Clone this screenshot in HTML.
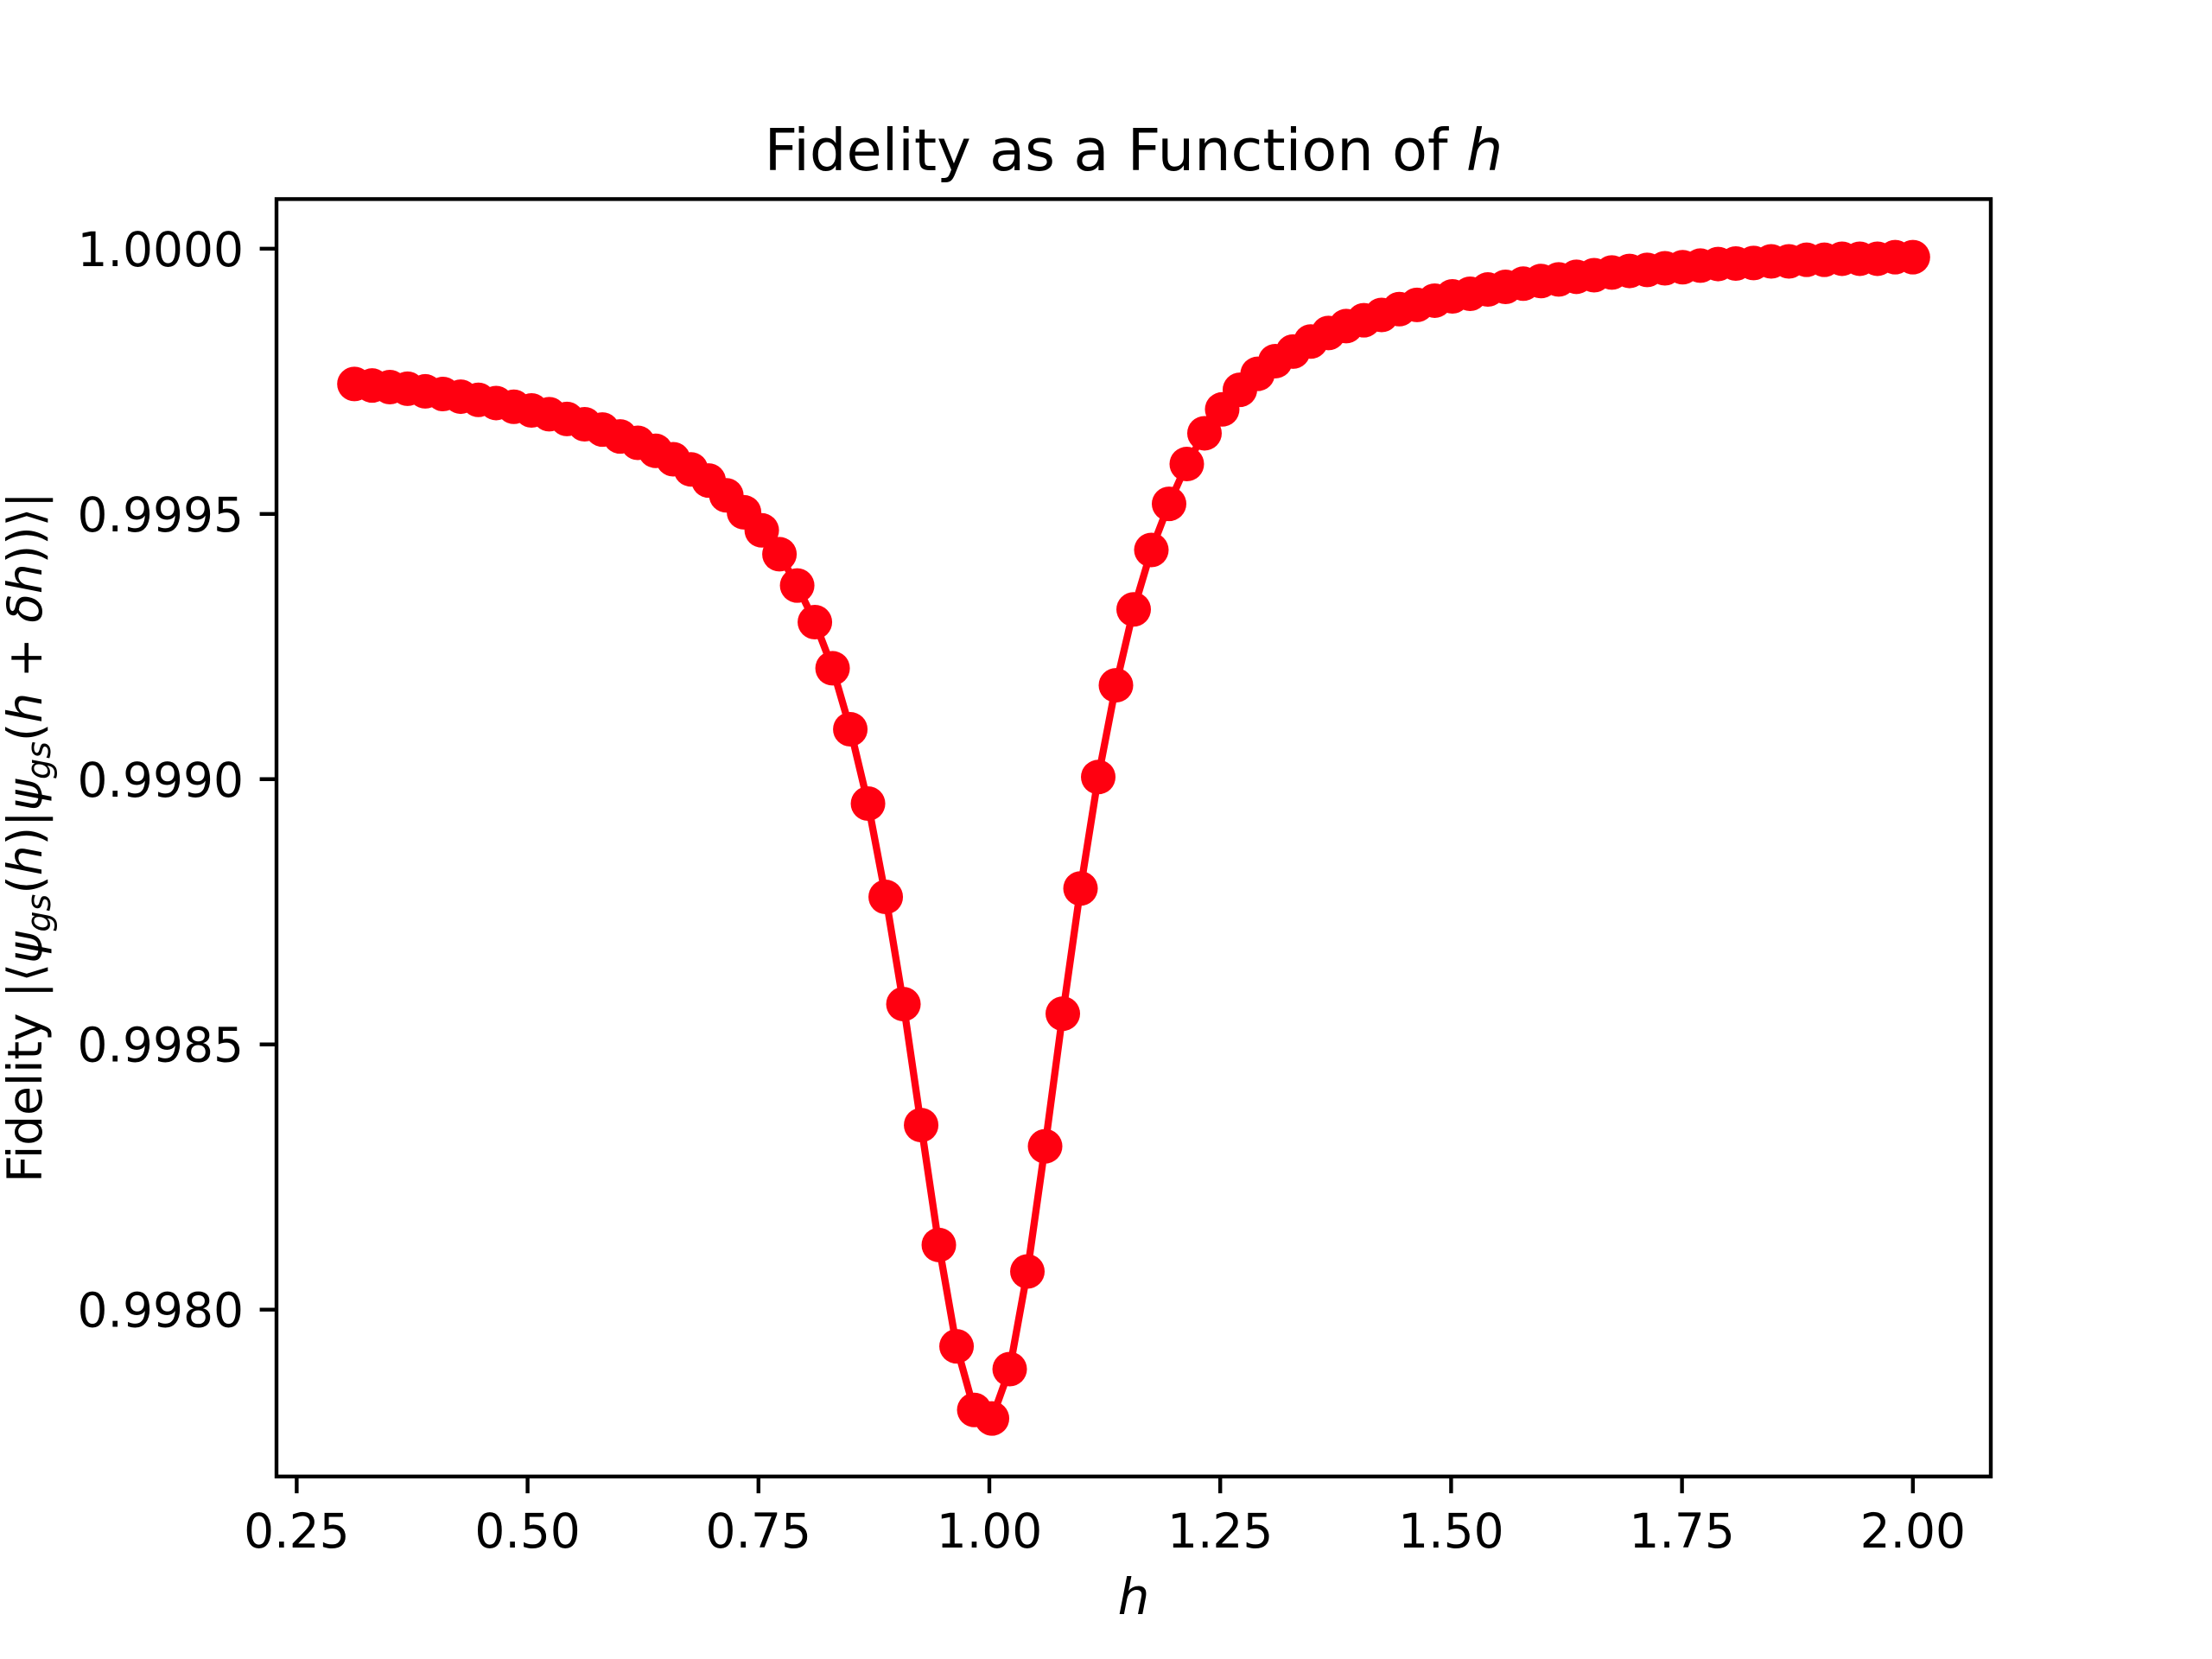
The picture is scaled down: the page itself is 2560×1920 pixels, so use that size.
<!DOCTYPE html>
<html><head><meta charset="utf-8"><style>
html,body{margin:0;padding:0;background:#fff;}
svg{display:block;font-family:"DejaVu Sans","Liberation Sans",sans-serif;}
</style></head><body>
<svg id="chart" width="2560" height="1920" viewBox="0 0 2560 1920" xmlns="http://www.w3.org/2000/svg">
<rect x="0" y="0" width="2560" height="1920" fill="#fff"/>
<text x="1312" y="197" text-anchor="middle" font-size="67">Fidelity as a Function of <tspan font-style="italic">h</tspan></text>
<g id="plot"></g>
<text x="1312" y="1868" text-anchor="middle" font-size="58" font-style="italic">h</text>
<text transform="translate(48,969) rotate(-90)" text-anchor="middle" font-size="55">Fidelity |⟨<tspan font-style="italic">ψ</tspan><tspan font-style="italic" font-size="38" dy="10">gs</tspan><tspan dy="-10">(</tspan><tspan font-style="italic">h</tspan>)|<tspan font-style="italic">ψ</tspan><tspan font-style="italic" font-size="38" dy="10">gs</tspan><tspan dy="-10">(</tspan><tspan font-style="italic">h</tspan> + <tspan font-style="italic">δh</tspan>))⟩|</text>
</svg>
<script>
const hStart = 0.3125;
const hEnd = 2.0;
const fidelity = [
0.999745,0.999742,0.999739,0.999736,0.999731,0.999726,0.999721,0.999715,0.999709,0.999702,
0.999695,0.999688,0.999679,0.999669,0.999659,0.999646,0.999634,0.999619,0.999603,0.999584,
0.999563,0.999535,0.999503,0.999469,0.999424,0.999365,0.999296,0.999209,0.999094,0.998954,
0.998778,0.998576,0.998348,0.998122,0.997931,0.997811,0.997795,0.997888,0.998072,0.998308,
0.998558,0.998794,0.999004,0.999177,0.999320,0.999432,0.999519,0.999594,0.999652,0.999697,
0.999734,0.999764,0.999788,0.999806,0.999825,0.999841,0.999854,0.999865,0.999875,0.999886,
0.999894,0.999902,0.999910,0.999915,0.999923,0.999928,0.999934,0.999939,0.999942,0.999947,
0.999950,0.999955,0.999958,0.999960,0.999963,0.999965,0.999968,0.999971,0.999972,0.999973,
0.999976,0.999976,0.999979,0.999979,0.999981,0.999981,0.999981,0.999984,0.999984];
const xTicks = [0.25,0.5,0.75,1.0,1.25,1.5,1.75,2.0];
const xTickLabels = ["0.25","0.50","0.75","1.00","1.25","1.50","1.75","2.00"];
const yTicks = [0.998,0.9985,0.999,0.9995,1.0];
const yTickLabels = ["0.9980","0.9985","0.9990","0.9995","1.0000"];

const NS = "http://www.w3.org/2000/svg";
const L = 320, R = 2304, T = 230.4, B = 1708.8;
const n = fidelity.length;
const hs = fidelity.map((_, i) => hStart + (hEnd - hStart) * i / (n - 1));
const xr = hEnd - hStart, xmin = hStart - 0.05 * xr, xmax = hEnd + 0.05 * xr;
const ymn = Math.min(...fidelity), ymx = Math.max(...fidelity), yr = ymx - ymn;
const ymin = ymn - 0.05 * yr, ymax = ymx + 0.05 * yr;
const sx = v => L + (v - xmin) / (xmax - xmin) * (R - L);
const sy = v => B - (v - ymin) / (ymax - ymin) * (B - T);
const g = document.getElementById('plot');
function mk(tag, attrs){ const e = document.createElementNS(NS, tag); for (const k in attrs) e.setAttribute(k, attrs[k]); g.appendChild(e); return e; }

const line = mk('polyline', {points: hs.map((h,i)=>sx(h).toFixed(1)+','+sy(fidelity[i]).toFixed(1)).join(' '), fill:'none', stroke:'#ff0010', 'stroke-width':8.3, 'stroke-linejoin':'round'});


hs.forEach((h,i)=>{
  const c = mk('circle', {cx:sx(h), cy:sy(fidelity[i]), r:20, fill:'#ff0010'});
  
  
});
xTicks.forEach((t,i)=>{
  const x = sx(t);
  const tk = mk('line', {x1:x, x2:x, y1:B, y2:B+19.4, stroke:'#000', 'stroke-width':4.4});
  
  
  const tx = mk('text', {x:x, y:B+82, 'text-anchor':'middle', 'font-size':55});
  tx.textContent = xTickLabels[i];
  
  
});
yTicks.forEach((t,i)=>{
  const y = sy(t);
  const tk = mk('line', {x1:L-19.4, x2:L, y1:y, y2:y, stroke:'#000', 'stroke-width':4.4});
  
  
  const tx = mk('text', {x:L-38, y:y+20, 'text-anchor':'end', 'font-size':55});
  tx.textContent = yTickLabels[i];
  
  
});
const frame = mk('rect', {x:L, y:T, width:R-L, height:B-T, fill:'none', stroke:'#000', 'stroke-width':4.4});


</script>
</body></html>
